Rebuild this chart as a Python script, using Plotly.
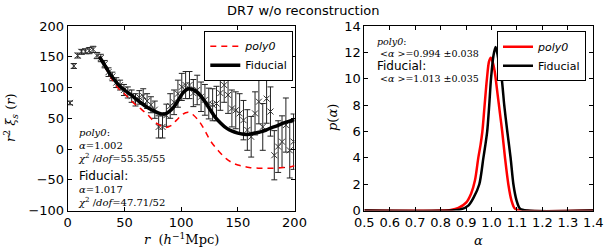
import plotly.graph_objects as go

# ---------------- data: left panel ----------------
r_data = [2.0, 5.4, 8.8, 12.2, 15.6, 19.0, 22.4, 25.8, 29.2, 32.6, 36.0, 39.4, 42.8, 46.2, 49.6,
          53.0, 56.4, 59.8, 63.2, 66.6, 70.0, 73.4, 76.8, 80.2, 83.6, 87.0, 90.4, 93.8, 97.2,
          100.6, 104.0, 107.4, 110.8, 114.2, 117.6, 121.0, 124.4, 127.8, 131.2, 134.6, 138.0,
          141.4, 144.8, 148.2, 151.6, 155.0, 158.4, 161.8, 165.2, 168.6, 172.0, 175.4, 178.8,
          182.2, 185.6, 189.0, 192.4, 195.8, 199.2]
xi_data = [75, 135, 152, 158, 159, 160, 162, 152, 148, 138, 125, 118, 108, 104, 96,
           92, 86, 80, 84, 86, 78, 72, 64, 36, 36, 55, 70, 76, 90,
           101, 104, 104, 91, 96, 85, 80, 74, 72, 74, 91, 104,
           88, 66, 63, 58, 47, 31, 20, 58, 77, 36, 82, 61,
           -10, 4, 12, 39, -2, 12]
xi_err = [3, 4, 4, 4, 4, 5, 5, 5, 6, 6, 7, 7, 8, 8, 9,
          9, 10, 10, 11, 12, 12, 13, 14, 18, 18, 18, 20, 20, 22,
          22, 22, 22, 22, 24, 24, 25, 25, 26, 28, 28, 28,
          30, 30, 30, 32, 32, 33, 33, 35, 36, 38, 40, 40,
          40, 42, 42, 44, 45, 45]

r_fid = [28, 33, 37, 41, 45, 50, 58, 64, 70, 76, 81, 85, 88, 92, 95, 99, 102, 105, 107,
         110, 113, 117, 121, 126, 130, 135, 140, 145, 150, 155, 160, 165, 170, 175, 180,
         185, 190, 195, 200]
xi_fid = [150, 135, 123, 113, 104, 96, 85, 76, 68, 62, 58, 57, 59, 65, 72, 84, 92, 97, 98,
          97, 94, 87, 77, 63, 52, 42, 34, 29, 26, 24, 24, 26, 28, 31, 35, 38, 42, 45, 48]

r_poly = [28, 33, 37, 41, 45, 50, 58, 64, 68, 72, 75, 80, 86, 91, 96, 101, 104, 106, 108,
          111, 116, 121, 126, 133, 140, 145, 150, 155, 160, 168, 175, 183, 190, 196, 200]
xi_poly = [150, 133, 120, 108, 98, 90, 75, 66, 60, 53, 47, 40, 35, 38, 47, 56, 59, 60, 59,
           55, 45, 30, 13, -3, -16, -22, -26, -28, -30, -31, -31, -31, -30, -29, -27]

# ---------------- data: right panel ----------------
a_poly = [0.50, 0.80, 0.84, 0.87, 0.90, 0.92, 0.935, 0.948, 0.957, 0.964, 0.972, 0.982, 0.990,
          0.997, 1.004, 1.012, 1.024, 1.033, 1.042, 1.053, 1.066, 1.078, 1.092, 1.12, 1.40]
p_poly = [0, 0, 0.05, 0.2, 0.6, 1.3, 2.3, 4.0, 5.0, 6.0, 7.8, 10.0, 11.3,
          11.6, 11.3, 10.6, 8.8, 7.4, 6.0, 4.0, 2.0, 0.8, 0.15, 0, 0]
a_fid = [0.50, 0.84, 0.88, 0.91, 0.93, 0.952, 0.968, 0.976, 0.983, 0.991, 0.998, 1.008, 1.016,
         1.024, 1.031, 1.040, 1.050, 1.062, 1.075, 1.086, 1.098, 1.112, 1.14, 1.40]
p_fid = [0, 0, 0.1, 0.4, 1.0, 2.0, 4.0, 5.0, 6.0, 8.0, 10.0, 11.8, 12.4,
         11.8, 10.9, 10.0, 8.0, 6.0, 4.0, 2.0, 0.8, 0.15, 0, 0]

left_xticks = [0, 50, 100, 150, 200]
left_yticks = [-100, -50, 0, 50, 100, 150, 200]
right_xticks = [0.5, 0.6, 0.7, 0.8, 0.9, 1.0, 1.1, 1.2, 1.3, 1.4]
right_yticks = [0, 2, 4, 6, 8, 10, 12, 14]

W, H = 606, 249
def px(x): return x / W
def py(y): return 1 - y / H

SANS = "DejaVu Sans"
SERIF = "DejaVu Serif"

fig = go.Figure()

fig.add_trace(go.Scatter(
    x=r_data, y=xi_data, mode="markers",
    error_y=dict(type="data", array=xi_err, color="#222222", thickness=1, width=3),
    marker=dict(symbol="x-thin", size=6, line=dict(width=1, color="#333333"), color="#333333"),
    showlegend=False, xaxis="x", yaxis="y"))
fig.add_trace(go.Scatter(
    x=r_poly, y=xi_poly, mode="lines", line=dict(color="#ff0000", width=1.5, dash="6px,5px", shape="spline"),
    name="<i>poly0</i>", legend="legend", xaxis="x", yaxis="y"))
fig.add_trace(go.Scatter(
    x=r_fid, y=xi_fid, mode="lines", line=dict(color="black", width=3.5, shape="spline"),
    name="Fiducial", legend="legend", xaxis="x", yaxis="y"))

fig.add_trace(go.Scatter(
    x=a_poly, y=p_poly, mode="lines", line=dict(color="#ff0000", width=2.5, shape="spline", smoothing=0.8),
    name="<i>poly0</i>", legend="legend2", xaxis="x2", yaxis="y2"))
fig.add_trace(go.Scatter(
    x=a_fid, y=p_fid, mode="lines", line=dict(color="black", width=2.5, shape="spline", smoothing=0.8),
    name="Fiducial", legend="legend2", xaxis="x2", yaxis="y2"))

axis_common = dict(showline=True, linecolor="black", linewidth=1, mirror="ticks", ticks="inside",
                   ticklen=4, tickcolor="black", showgrid=False, zeroline=False, automargin=False,
                   tickfont=dict(family=SANS, size=13, color="black"))

leg_common = dict(xanchor="right", yanchor="top", bordercolor="black", borderwidth=1,
                  bgcolor="white", font=dict(family=SANS, size=11, color="black"),
                  tracegroupgap=0, itemwidth=30)

fig.update_layout(
    width=W, height=H, margin=dict(l=0, r=0, t=0, b=0, pad=0, autoexpand=False),
    paper_bgcolor="white", plot_bgcolor="white",
    xaxis=dict(domain=[px(67.7), px(294.5)], range=[0, 200], tickvals=left_xticks,
               anchor="y", **axis_common),
    yaxis=dict(domain=[py(210.6), py(26)], range=[-100, 200], tickvals=left_yticks,
               ticktext=[str(v).replace("-", "\u2212") for v in left_yticks],
               anchor="x", **axis_common),
    xaxis2=dict(domain=[px(364.3), px(593.3)], range=[0.5, 1.4], tickvals=right_xticks,
                ticktext=["%.1f" % v for v in right_xticks], anchor="y2", **axis_common),
    yaxis2=dict(domain=[py(210.6), py(26)], range=[0, 14], tickvals=right_yticks,
                anchor="x2", **axis_common),
    legend=dict(x=px(293.3), y=py(30.7), **leg_common),
    legend2=dict(x=px(586), y=py(31.3), **leg_common),
)

ann = []
def text(x, y, s, size=12, family=SANS, xanchor="left", angle=0, align="left"):
    ann.append(dict(x=px(x), y=py(y), xref="paper", yref="paper", text=s, showarrow=False,
                    xanchor=xanchor, yanchor="middle", textangle=angle, align=align,
                    font=dict(family=family, size=size, color="black")))

FID = '<span style="font-family:DejaVu Sans;font-size:12px">Fiducial:</span>'

text(303, 10, "DR7 w/o reconstruction", size=13, xanchor="center")
# left panel labels
text(76, 145, "<i>poly0</i>:<br><i>α</i>=1.002<br><i>χ</i><sup>2</sup> /<i>dof</i>=55.35/55",
     size=10, family=SERIF)
text(76, 188, FID + "<br><i>α</i>=1.017<br><i>χ</i><sup>2</sup> /<i>dof</i>=47.71/52",
     size=10, family=SERIF)
# right panel labels
text(375, 60, "<i>poly0</i>:<br> <<i>α</i> >=0.994 ±0.038<br>" + FID + "<br> <<i>α</i> >=1.013 ±0.035",
     size=9.5, family=SERIF)
# axis titles
text(181, 239, "<i>r</i>  (<i>h</i><sup>−1</sup>Mpc)", size=13, family=SERIF, xanchor="center")
text(478.8, 240, "<i>α</i>", size=13, family=SERIF, xanchor="center")
text(11, 118, "<i>r</i><sup>2</sup> <i>ξ<sub>s</sub></i> (<i>r</i>)", size=13, family=SERIF, xanchor="center", angle=-90)
text(332, 118, "<i>p</i>(<i>α</i>)", size=13, family=SERIF, xanchor="center", angle=-90)

fig.update_layout(annotations=ann)
fig.write_html("out.html", config={"displayModeBar": False},
               post_script="document.body.style.margin='0px';document.body.style.overflow='hidden';")
